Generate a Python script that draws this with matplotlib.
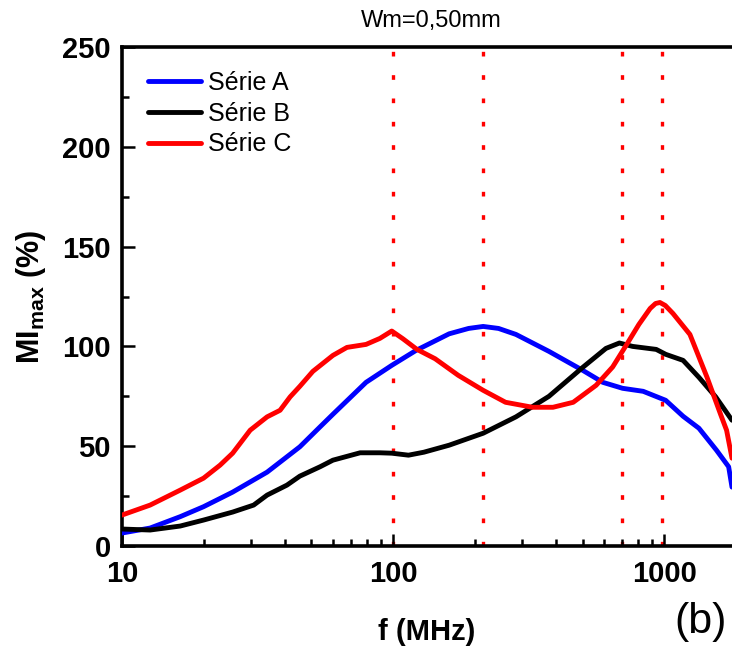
import matplotlib
matplotlib.use("Agg")
import matplotlib.pyplot as plt
from matplotlib.ticker import MultipleLocator, NullFormatter, LogLocator

plt.rcParams["font.family"] = "Liberation Sans"
plt.rcParams["mathtext.fontset"] = "custom"
plt.rcParams["mathtext.rm"] = "Liberation Sans:bold"
plt.rcParams["mathtext.bf"] = "Liberation Sans:bold"

# data (f in MHz, MI_max in %)
f_a = [10, 12.7, 16.4, 20, 25.6, 34.3, 45.3, 53.8, 60, 79.5, 98.9, 121.6,
       161, 190, 215, 245, 284, 376, 501, 594, 703, 837, 1013, 1175, 1344,
       1560, 1730, 1780]
mi_a = [6.5, 9, 14.7, 19.7, 27, 37, 49.7, 59.7, 66, 82, 90.5, 98,
        106.3, 109, 110, 109, 106, 97.5, 88, 82, 79, 77.5, 73, 65, 59,
        48, 39.7, 29.5]

f_b = [10, 12.7, 16.4, 20, 25.6, 30.6, 34.3, 40.6, 45.3, 53.8, 60, 75.6,
       89.4, 98.9, 114, 130, 161, 215, 284, 376, 501, 610, 684, 765, 935,
       1015, 1175, 1344, 1550, 1780]
mi_b = [8.5, 8, 10, 13, 17, 20.5, 25.5, 30.5, 35, 39.7, 43, 46.7,
        46.7, 46.5, 45.5, 47, 50.5, 56.5, 64.7, 75, 89.5, 99, 101.7, 100, 98.5,
        96, 93, 84.5, 74.7, 63]

f_c = [10, 12.7, 16.4, 20, 23, 25.6, 29.7, 34.3, 38.3, 41.7, 45.3, 50.6,
       60, 67.6, 79.5, 89.4, 98.9, 108.8, 122.5, 143, 174, 215, 260, 327,
       389, 462, 561, 646, 724, 807, 888, 930, 965, 1010, 1078, 1245, 1440,
       1615, 1700, 1780]
mi_c = [15.5, 20.5, 28, 34, 40.5, 46.5, 58, 64.7, 68, 74.7, 80, 87.5,
        95.5, 99.5, 101, 104, 107.7, 103.8, 98.5, 93.8, 85.5, 78, 72, 69.5,
        69.5, 72, 80.5, 89.7, 100.5, 111, 119, 121.5, 122, 120.5, 116.5, 106,
        84.5, 66, 58, 44]

peaks = [100, 215, 700, 980]
labels = ["Série A", "Série B", "Série C"]

fig = plt.figure(figsize=(7.32, 6.5), dpi=100)
ax = fig.add_axes([122/732, 1-546/650, 610/732, 499/650])

for x in peaks:
    ax.axvline(x, color="red", lw=2.4, ls=(0, (1.4, 5.6)), zorder=1)

style = dict(lw=3.5, solid_joinstyle="round", solid_capstyle="round",
             zorder=3)
ax.plot(f_a, mi_a, color="blue", label=labels[0], **style)
ax.plot(f_b, mi_b, color="black", label=labels[1], **style)
ax.plot(f_c, mi_c, color="red", label=labels[2], **style)

ax.set_xscale("log")
ax.set_xlim(10, 1780)
ax.set_ylim(0, 250)
ax.set_xticks([10, 100, 1000])
ax.set_xticklabels(["10", "100", "1000"])
ax.xaxis.set_minor_locator(LogLocator(base=10, subs=range(2, 10)))
ax.xaxis.set_minor_formatter(NullFormatter())
ax.yaxis.set_major_locator(MultipleLocator(50))
ax.yaxis.set_minor_locator(MultipleLocator(25))

for s in ["left", "bottom", "top"]:
    ax.spines[s].set_linewidth(2.6)
ax.spines["right"].set_visible(False)
ax.tick_params(which="both", direction="in", width=1.8, top=False,
               right=False, labelsize=21)
ax.tick_params(which="major", length=9)
ax.tick_params(which="minor", length=5)
ax.tick_params(axis="x", pad=10)
ax.tick_params(axis="y", pad=8)
for t in ax.get_xticklabels() + ax.get_yticklabels():
    t.set_fontweight("bold")

ax.set_xlabel("f (MHz)", fontsize=21, fontweight="bold", labelpad=22)
ax.set_ylabel(r"MI$_{\mathbf{max}}$ (%)", fontsize=22, fontweight="bold",
              labelpad=10)

ax.legend(loc="upper left", bbox_to_anchor=(0.043, 0.952), frameon=False,
          fontsize=18, handlelength=2.1, handletextpad=0.3,
          labelspacing=0.27, borderpad=0, borderaxespad=0)

fig.text(431/732, 1-21/650, "Wm=0,50mm", fontsize=17, ha="center",
         va="center")
fig.text(674/732, 1-633/650, "(b)", fontsize=31, ha="left", va="baseline")

fig.savefig("out.png", dpi=100)
